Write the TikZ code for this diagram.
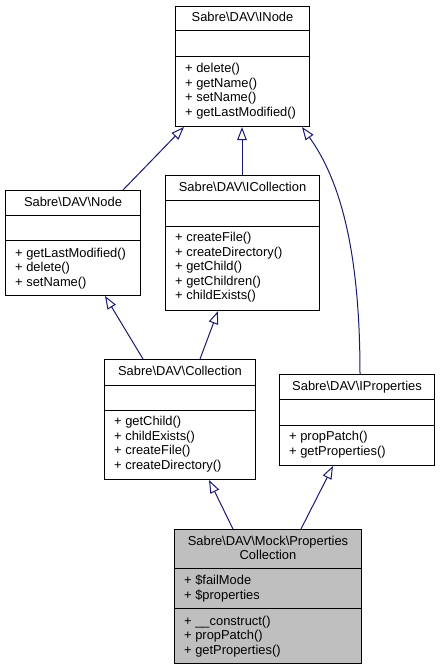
\documentclass[tikz,border=0pt]{standalone}
\usepackage{fontspec}
\setmainfont{Liberation Sans}
\usepackage{xcolor}
\definecolor{c191970}{HTML}{191970}
\definecolor{bfbfbf}{HTML}{BFBFBF}
\usepackage{tikz}
\usetikzlibrary{arrows.meta}
\newcommand{\bsl}{\textbackslash}

\begin{document}
\begin{tikzpicture}[x=1pt, y=-1pt,
        font=\fontsize{12.9}{14.5}\selectfont,
        cls/.style={draw=black, line width=1pt, fill=white, inner sep=0, anchor=north west},
        title/.style={anchor=base, inner sep=0},
        member/.style={anchor=base west, inner sep=0},
        inherit/.style={draw=c191970, line width=1pt, -{Triangle[open, length=13pt, width=9.5pt]}}]
            \useasboundingbox (0,0) rectangle (439,669);

            \node[cls, minimum width=134, minimum height=120] (inode) at (175,6) {};
            \node[cls, minimum width=135, minimum height=105] (davnode) at (5,190) {};
            \node[cls, minimum width=154, minimum height=135] (icoll) at (165,175) {};
            \node[cls, minimum width=151, minimum height=120] (coll) at (104,359) {};
            \node[cls, minimum width=155, minimum height=91] (iprops) at (279,374) {};
            \node[cls, fill=bfbfbf, minimum width=187, minimum height=134] (mock) at (174,529) {};

            \foreach \c/\a/\b in {inode/31/57, davnode/215/240, icoll/200/226, coll/385/410, iprops/399/425, mock/568/608} {
                \draw[line width=1pt] (\c.west |- 0,\a) -- (\c.east |- 0,\a);
                \draw[line width=1pt] (\c.west |- 0,\b) -- (\c.east |- 0,\b);
            }

            \node[title] (inode-t) at (inode.north |- 0,22) {Sabre\bsl DAV\bsl INode};
            \node[title] (davnode-t) at (davnode.north |- 0,206) {Sabre\bsl DAV\bsl Node};
            \node[title] (icoll-t) at (icoll.north |- 0,191) {Sabre\bsl DAV\bsl ICollection};
            \node[title] (coll-t) at (coll.north |- 0,375) {Sabre\bsl DAV\bsl Collection};
            \node[title] (iprops-t) at (iprops.north |- 0,390) {Sabre\bsl DAV\bsl IProperties};
            \node[title] (mock-t1) at (mock.north |- 0,545) {Sabre\bsl DAV\bsl Mock\bsl Properties};
            \node[title] (mock-t2) at (mock.north |- 0,559.5) {Collection};

            \foreach \m [count=\k] in {delete(), getName(), setName(), getLastModified()}
                \node[member] (inode-m\k) at (185,58+14.5*\k) {+ \m};
            \foreach \m [count=\k] in {getLastModified(), delete(), setName()}
                \node[member] (davnode-m\k) at (15,242.5+14.5*\k) {+ \m};
            \foreach \m [count=\k] in {createFile(), createDirectory(), getChild(), getChildren(), childExists()}
                \node[member] (icoll-m\k) at (175,227+14.5*\k) {+ \m};
            \foreach \m [count=\k] in {getChild(), childExists(), createFile(), createDirectory()}
                \node[member] (coll-m\k) at (114,411+14.5*\k) {+ \m};
            \foreach \m [count=\k] in {propPatch(), getProperties()}
                \node[member] (iprops-m\k) at (289,426+14.5*\k) {+ \m};
            \foreach \m [count=\k] in {\$failMode, \$properties}
                \node[member] (mock-a\k) at (184,570+14.5*\k) {+ \m};
            \foreach \m [count=\k] in {\_\_construct(), propPatch(), getProperties()}
                \node[member] (mock-m\k) at (184,610.5+14.5*\k) {+ \m};

            \draw[inherit] (davnode.north -| 123,0) -- (inode.south -| 184,0);
            \draw[inherit] (icoll.north -| 242,0) -- (inode.south -| 242,0);
            \draw[inherit] (iprops.north -| 360,0) .. controls (360,250) and (340,180) .. (inode.south -| 302,0);
            \draw[inherit] (coll.north -| 143,0) -- (davnode.south -| 105,0);
            \draw[inherit] (coll.north -| 200,0) -- (icoll.south -| 218,0);
            \draw[inherit] (mock.north -| 233,0) -- (coll.south -| 209,0);
            \draw[inherit] (mock.north -| 301,0) -- (iprops.south -| 333,0);
        \end{tikzpicture}
\end{document}
